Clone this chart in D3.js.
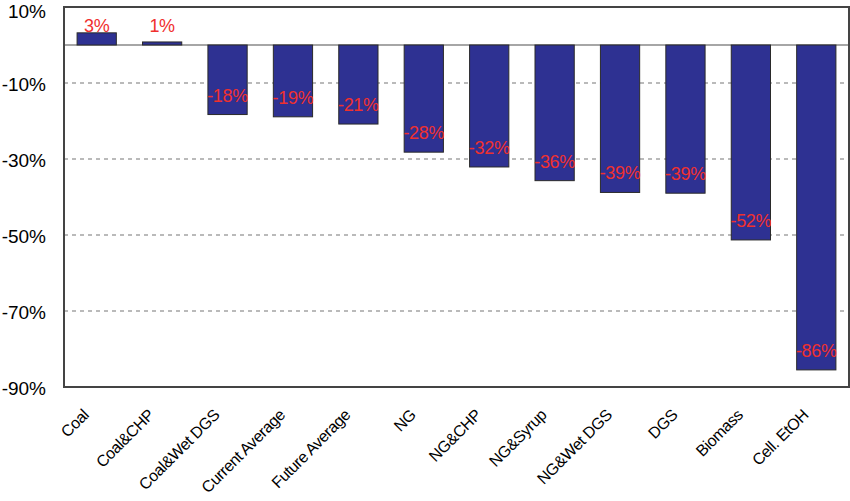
<!DOCTYPE html>
<html>
<head>
<meta charset="utf-8">
<script src="https://cdn.jsdelivr.net/npm/d3@7"></script>
<style>
  body { margin: 0; background: #fff; }
  svg { font-family: "Liberation Sans", Arial, Helvetica, sans-serif; }
</style>
</head>
<body>
<div id="chart"></div>
<script>
// Data
const categories = ["Coal", "Coal&CHP", "Coal&Wet DGS", "Current Average", "Future Average",
    "NG", "NG&CHP", "NG&Syrup", "NG&Wet DGS", "DGS", "Biomass", "Cell. EtOH"];
const values = [3.2, 0.8, -18.3, -18.9, -20.8, -28.2, -32.1, -35.7, -38.8, -39.0, -51.3, -85.5];
const labels = ["3%", "1%", "-18%", "-19%", "-21%", "-28%", "-32%", "-36%", "-39%", "-39%", "-52%", "-86%"];
const yTicks = [10, -10, -30, -50, -70, -90];
const gridTicks = [-10, -30, -50, -70];

const data = categories.map((c, i) => ({name: c, value: values[i], label: labels[i]}));

const width = 850, height = 501;
const margin = {top: 7, bottom: 114, left: 64, right: 1};

const svg = d3.select("#chart")
    .append("svg")
    .attr("width", width)
    .attr("height", height);

const xScale = d3.scaleBand()
    .domain(categories)
    .range([margin.left, width - margin.right])
    .paddingInner(0.4)
    .paddingOuter(0.2);

const yScale = d3.scaleLinear()
    .domain([-90, 10])
    .range([height - margin.bottom, margin.top]);

// dashed grid lines
svg.selectAll(".grid")
    .data(gridTicks)
    .enter().append("line")
    .attr("class", "grid")
    .attr("x1", margin.left)
    .attr("x2", width - margin.right)
    .attr("y1", d => yScale(d))
    .attr("y2", d => yScale(d))
    .attr("stroke", "#777")
    .attr("stroke-width", 1.2)
    .attr("stroke-dasharray", "4,4");

// zero line
svg.append("line")
    .attr("x1", margin.left)
    .attr("x2", width - margin.right)
    .attr("y1", yScale(0))
    .attr("y2", yScale(0))
    .attr("stroke", "#888")
    .attr("stroke-width", 1.5);

// bars
svg.selectAll(".bar")
    .data(data)
    .enter().append("rect")
    .attr("class", "bar")
    .attr("x", d => xScale(d.name))
    .attr("width", xScale.bandwidth())
    .attr("y", d => yScale(Math.max(0, d.value)))
    .attr("height", d => Math.abs(yScale(d.value) - yScale(0)))
    .attr("fill", "#2e3192")
    .attr("stroke", "#2a2a2a")
    .attr("stroke-width", 1);

// value labels
svg.selectAll(".val")
    .data(data)
    .enter().append("text")
    .attr("class", "val")
    .attr("x", d => xScale(d.name) + xScale.bandwidth() / 2)
    .attr("y", d => d.value > 0 ? yScale(0) - 13 : yScale(d.value) - 13)
    .attr("text-anchor", "middle")
    .style("font-size", "18px")
    .style("letter-spacing", "-0.3px")
    .style("fill", "#f0302e")
    .text(d => d.label);

// plot frame
svg.append("rect")
    .attr("x", margin.left)
    .attr("y", margin.top)
    .attr("width", width - margin.right - margin.left)
    .attr("height", height - margin.bottom - margin.top)
    .attr("fill", "none")
    .attr("stroke", "#444")
    .attr("stroke-width", 2);

// y axis
const yAxis = svg.append("g")
    .attr("transform", `translate(${margin.left},0)`)
    .call(d3.axisLeft(yScale).tickValues(yTicks).tickSize(0).tickPadding(18).tickFormat(d => d + "%"));
yAxis.select(".domain").remove();
yAxis.selectAll("text")
    .style("font-size", "19px")
    .style("font-family", "'Liberation Sans', Arial, sans-serif")
    .attr("dy", d => d === 10 ? "0.55em" : "0.42em")
    .attr("fill", "#000");

// x axis with rotated labels
const xAxis = svg.append("g")
    .attr("transform", `translate(0,${height - margin.bottom})`)
    .call(d3.axisBottom(xScale).tickSize(0).tickPadding(0));
xAxis.select(".domain").remove();
xAxis.selectAll("text")
    .style("font-size", "16px")
    .style("letter-spacing", "-0.4px")
    .style("font-family", "'Liberation Sans', Arial, sans-serif")
    .attr("fill", "#000")
    .attr("text-anchor", "end")
    .attr("dy", null)
    .attr("y", 0)
    .attr("transform", "translate(-7,29) rotate(-45)");
</script>
</body>
</html>
